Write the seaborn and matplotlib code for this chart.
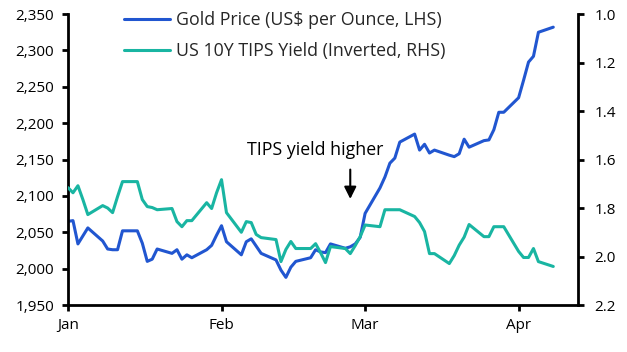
import matplotlib
matplotlib.use("Agg")
import matplotlib.pyplot as plt
from matplotlib.ticker import FuncFormatter, FixedLocator
import numpy as np
import pandas as pd
import seaborn as sns

dates = [
    "2024-01-01", "2024-01-02", "2024-01-03", "2024-01-04", "2024-01-05",
    "2024-01-08", "2024-01-09", "2024-01-10", "2024-01-11", "2024-01-12",
    "2024-01-15", "2024-01-16", "2024-01-17", "2024-01-18", "2024-01-19",
    "2024-01-22", "2024-01-23", "2024-01-24", "2024-01-25", "2024-01-26",
    "2024-01-29", "2024-01-30", "2024-01-31",
    "2024-02-01", "2024-02-02",
    "2024-02-05", "2024-02-06", "2024-02-07", "2024-02-08", "2024-02-09",
    "2024-02-12", "2024-02-13", "2024-02-14", "2024-02-15", "2024-02-16",
    "2024-02-19", "2024-02-20", "2024-02-21", "2024-02-22", "2024-02-23",
    "2024-02-26", "2024-02-27", "2024-02-28", "2024-02-29",
    "2024-03-01",
    "2024-03-04", "2024-03-05", "2024-03-06", "2024-03-07", "2024-03-08",
    "2024-03-11", "2024-03-12", "2024-03-13", "2024-03-14", "2024-03-15",
    "2024-03-18", "2024-03-19", "2024-03-20", "2024-03-21", "2024-03-22",
    "2024-03-25", "2024-03-26", "2024-03-27", "2024-03-28", "2024-03-29",
    "2024-04-01", "2024-04-02", "2024-04-03", "2024-04-04", "2024-04-05",
    "2024-04-08",
]

gold_price = [
    2065, 2066, 2034, 2045, 2056,
    2038, 2027, 2026, 2026, 2052,
    2052, 2035, 2010, 2013, 2027,
    2021, 2026, 2013, 2019, 2015,
    2026, 2032, 2046,
    2059, 2037,
    2019, 2037, 2041, 2031, 2021,
    2012, 1998, 1988, 2002, 2010,
    2015, 2026, 2023, 2022, 2034,
    2028, 2030, 2034, 2043,
    2076,
    2111, 2126, 2145, 2152, 2174,
    2185, 2163, 2171, 2159, 2163,
    2156, 2154, 2158, 2178, 2167,
    2176, 2177, 2191, 2215, 2215,
    2235, 2259, 2284, 2292, 2325,
    2332,
]

tips_yield = [
    1.716, 1.737, 1.708, 1.765, 1.827,
    1.790, 1.800, 1.819, 1.753, 1.691,
    1.691, 1.765, 1.794, 1.798, 1.807,
    1.802, 1.856, 1.877, 1.852, 1.852,
    1.778, 1.802, 1.737,
    1.683, 1.819,
    1.900, 1.856, 1.860, 1.909, 1.922,
    1.930, 2.021, 1.971, 1.938, 1.967,
    1.967, 1.947, 1.984, 2.025, 1.959,
    1.967, 1.988, 1.955, 1.918,
    1.870,
    1.877, 1.807, 1.807, 1.807, 1.807,
    1.835, 1.860, 1.897, 1.988, 1.988,
    2.029, 1.996, 1.953, 1.920, 1.868,
    1.918, 1.918, 1.877, 1.877, 1.877,
    1.979, 2.004, 2.004, 1.967, 2.021,
    2.041,
]

left_ticks = [1950, 2000, 2050, 2100, 2150, 2200, 2250, 2300, 2350]
right_ticks = [1.0, 1.2, 1.4, 1.6, 1.8, 2.0, 2.2]
month_ticks = ["2024-01-01", "2024-02-01", "2024-03-01", "2024-04-01"]
month_labels = ["Jan", "Feb", "Mar", "Apr"]

gold_label = "Gold Price (US$ per Ounce, LHS)"
tips_label = "US 10Y TIPS Yield (Inverted, RHS)"
annotation_text = "TIPS yield higher"

df = pd.DataFrame({
    "date": pd.to_datetime(dates),
    "gold": gold_price,
    "tips": tips_yield,
})

sns.set_theme(style="white")
plt.rcParams["font.family"] = ["Open Sans", "DejaVu Sans"]

GOLD_C = "#2156d0"
TIPS_C = "#19b5a2"

fig = plt.figure(figsize=(6.27, 3.52), dpi=100)
ax = fig.add_axes([0.1085, 0.1335, 0.8134, 0.8265])
ax2 = ax.twinx()

sns.lineplot(data=df, x="date", y="gold", ax=ax, color=GOLD_C, lw=2.2, label=gold_label, legend=False)
sns.lineplot(data=df, x="date", y="tips", ax=ax2, color=TIPS_C, lw=2.2, label=tips_label, legend=False)

ax.set_ylim(1950, 2350)
ax2.set_ylim(2.2, 1.0)
ax.set_xlim(pd.Timestamp("2024-01-01"), pd.Timestamp("2024-04-13"))

ax.yaxis.set_major_locator(FixedLocator(left_ticks))
ax.yaxis.set_major_formatter(FuncFormatter(lambda v, p: f"{v:,.0f}"))
ax2.yaxis.set_major_locator(FixedLocator(right_ticks))
ax2.yaxis.set_major_formatter(FuncFormatter(lambda v, p: f"{v:.1f}"))

ax.set_xticks(pd.to_datetime(month_ticks))
ax.set_xticklabels(month_labels)

ax.set_xlabel("")
ax.set_ylabel("")
ax2.set_ylabel("")

for a in (ax, ax2):
    a.grid(False)
    a.spines["top"].set_visible(False)
    for s in ("left", "right", "bottom"):
        a.spines[s].set_color("black")
        a.spines[s].set_linewidth(2)
    a.tick_params(axis="both", which="major", direction="out", length=4, width=2,
                  color="black", labelsize=11, labelcolor="black", pad=3)
ax.spines["right"].set_visible(False)
ax2.spines["left"].set_visible(False)
ax2.spines["bottom"].set_visible(False)
ax.tick_params(axis="y", left=True, right=False, pad=6)
ax.tick_params(axis="x", bottom=True, pad=5)
ax2.tick_params(axis="y", right=True, left=False, pad=8)

h1, l1 = ax.get_legend_handles_labels()
h2, l2 = ax2.get_legend_handles_labels()
leg = ax2.legend(h1 + h2, l1 + l2, loc="upper left", bbox_to_anchor=(0.095, 1.035),
                 frameon=False, fontsize=12.8, handlelength=2.6, handletextpad=0.35,
                 labelspacing=0.75, borderaxespad=0)

ax.annotate("", xy=(pd.Timestamp("2024-02-27"), 2092), xytext=(pd.Timestamp("2024-02-27"), 2140),
            arrowprops=dict(arrowstyle="-|>,head_width=0.3,head_length=0.6", color="black", lw=1.5))
ax.text(pd.Timestamp("2024-02-20"), 2163, annotation_text, ha="center", va="center",
        fontsize=12.8, color="black")

fig.savefig("out.png", dpi=100)
